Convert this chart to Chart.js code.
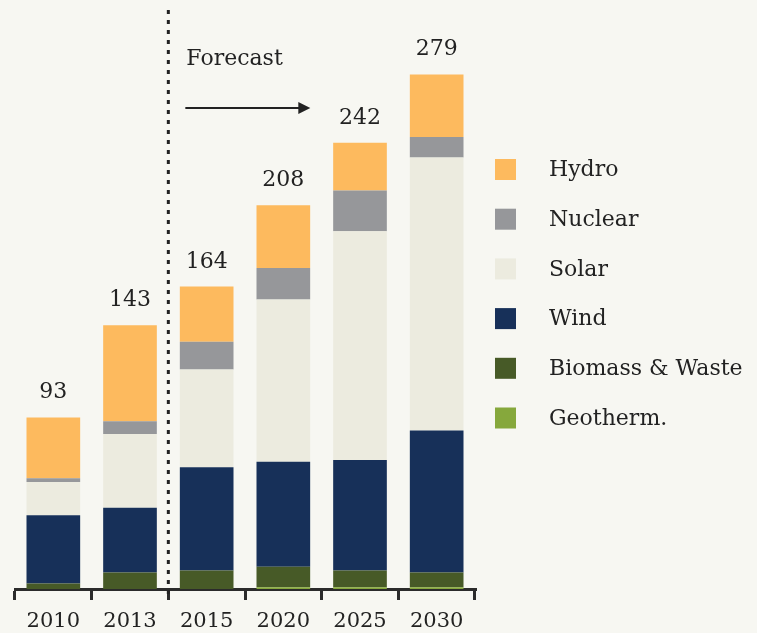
<!DOCTYPE html>
<html lang="en">
<head>
    <meta charset="UTF-8">
    <title>Renewable capacity</title>
    <script src="https://cdn.jsdelivr.net/npm/chart.js"></script>
    <style>
        html, body { margin: 0; padding: 0; background: #f7f7f2; }
        #wrap { width: 757px; height: 633px; }
    </style>
</head>
<body>
    <div id="wrap"><canvas id="chart"></canvas></div>

    <script>
        // data (stack order bottom -> top)
        const years = ["2010", "2013", "2015", "2020", "2025", "2030"];
        const geotherm = [0, 0, 0, 1, 1, 1];
        const biomass = [3, 9, 10, 11, 9, 8];
        const wind = [37, 35, 56, 57, 60, 77];
        const solar = [18, 40, 53, 88, 124, 148];
        const nuclear = [2, 7, 15, 17, 22, 11];
        const hydro = [33, 52, 30, 34, 26, 34];

        const FONT = "'DejaVu Serif', serif";
        const TEXT = "#222222";

        // totals above each bar
        const totalsPlugin = {
            id: "totals",
            afterDatasetsDraw(chart) {
                let ctx = chart.ctx;
                let last = chart.data.datasets.length - 1;
                let meta = chart.getDatasetMeta(last);
                ctx.save();
                ctx.font = "22px " + FONT;
                ctx.fillStyle = TEXT;
                ctx.textAlign = "center";
                ctx.textBaseline = "alphabetic";
                meta.data.forEach((bar, i) => {
                    let total = chart.data.datasets.reduce((s, ds) => s + ds.data[i], 0);
                    ctx.fillText(total, bar.x, bar.y - 19);
                });
                ctx.restore();
            }
        };

        // forecast divider, label and arrow
        const forecastPlugin = {
            id: "forecast",
            afterDraw(chart) {
                let ctx = chart.ctx;
                let x = chart.scales.x;
                let lineX = (x.getPixelForValue(1) + x.getPixelForValue(2)) / 2;
                let area = chart.chartArea;
                ctx.save();
                ctx.strokeStyle = "#222222";
                ctx.lineWidth = 3;
                ctx.setLineDash([4, 6]);
                ctx.beginPath();
                ctx.moveTo(lineX, 10);
                ctx.lineTo(lineX, area.bottom + 10);
                ctx.stroke();
                ctx.setLineDash([]);

                ctx.font = "22px " + FONT;
                ctx.fillStyle = TEXT;
                ctx.textAlign = "left";
                ctx.fillText("Forecast", lineX + 18, 65);

                ctx.lineWidth = 2;
                ctx.beginPath();
                ctx.moveTo(lineX + 17, 108);
                ctx.lineTo(lineX + 132, 108);
                ctx.stroke();
                ctx.beginPath();
                ctx.moveTo(lineX + 142, 108);
                ctx.lineTo(lineX + 130, 102);
                ctx.lineTo(lineX + 130, 114);
                ctx.closePath();
                ctx.fill();
                ctx.restore();
            }
        };

        // legend on the right, top series first
        const legendPlugin = {
            id: "sideLegend",
            afterDraw(chart) {
                let ctx = chart.ctx;
                let sets = chart.data.datasets.slice().reverse();
                let left = chart.chartArea.right + 20;
                ctx.save();
                ctx.font = "22px " + FONT;
                ctx.textAlign = "left";
                ctx.textBaseline = "middle";
                sets.forEach((ds, i) => {
                    let cy = 169.5 + i * 49.7;
                    ctx.fillStyle = ds.backgroundColor;
                    ctx.fillRect(left, cy - 10.5, 21, 21);
                    ctx.fillStyle = TEXT;
                    ctx.fillText(ds.label, left + 54, cy + 1);
                });
                ctx.restore();
            }
        };

        new Chart(document.getElementById("chart"), {
            type: "bar",
            data: {
                labels: years,
                datasets: [
                    { label: "Geotherm.", data: geotherm, backgroundColor: "#86a83c" },
                    { label: "Biomass & Waste", data: biomass, backgroundColor: "#475a27" },
                    { label: "Wind", data: wind, backgroundColor: "#173059" },
                    { label: "Solar", data: solar, backgroundColor: "#ecebdf" },
                    { label: "Nuclear", data: nuclear, backgroundColor: "#96979a" },
                    { label: "Hydro", data: hydro, backgroundColor: "#fdba5e" }
                ]
            },
            options: {
                responsive: true,
                maintainAspectRatio: false,
                animation: false,
                layout: { padding: { left: 15, right: 282, top: 8, bottom: 0 } },
                datasets: { bar: { categoryPercentage: 1, barPercentage: 0.7, borderWidth: 0 } },
                plugins: { legend: { display: false }, tooltip: { enabled: false } },
                scales: {
                    x: {
                        stacked: true,
                        afterFit(s) { s.height = 44; },
                        border: { display: true, color: "#2b2b2b", width: 3 },
                        grid: {
                            offset: true,
                            drawOnChartArea: false,
                            drawTicks: true,
                            tickLength: 11,
                            color: "#2b2b2b",
                            lineWidth: 3
                        },
                        ticks: { color: TEXT, font: { family: FONT, size: 21 }, padding: 9, maxRotation: 0 }
                    },
                    y: {
                        stacked: true,
                        display: false,
                        min: 0,
                        max: 315
                    }
                }
            },
            plugins: [totalsPlugin, forecastPlugin, legendPlugin]
        });
    </script>
</body>
</html>
